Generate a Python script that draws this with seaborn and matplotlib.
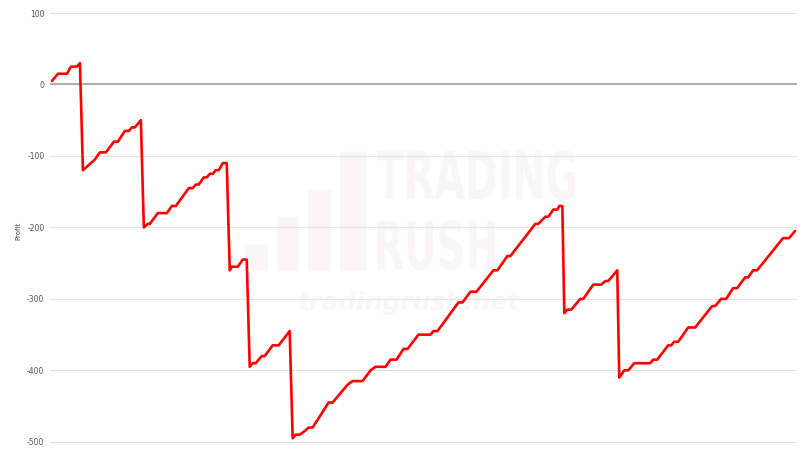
import matplotlib
matplotlib.use("Agg")
import matplotlib.pyplot as plt
import seaborn as sns
import pandas as pd
from matplotlib.patches import Rectangle, PathPatch
from matplotlib.textpath import TextPath
from matplotlib.font_manager import FontProperties
from matplotlib.transforms import Affine2D, IdentityTransform

# bar index (x) and running profit (y)
bars = [1, 7, 16, 20, 26, 29, 32, 40, 44, 49, 55, 63, 67, 74, 78, 81, 84, 90,
        93, 97, 99, 107, 116, 121, 125, 138, 142, 145, 148, 153, 156, 159, 162, 165, 168, 172, 176,
        179, 181, 187, 192, 196, 199, 202, 205, 211, 214, 222, 228, 239,
        242, 245, 249, 254, 258, 262, 278, 282, 297, 302, 312, 320, 325, 335, 340, 346, 353, 357,
        368, 380, 383, 387, 408, 412, 420, 426, 443, 447, 457, 460, 485, 488, 495, 498, 503, 507,
        509, 512,
        514, 517, 521, 530, 533, 543, 551, 555, 558, 567,
        569, 574, 578, 584, 600, 603, 607, 618, 621, 624, 628, 638, 645, 662, 665, 671, 676, 683,
        687, 695, 698, 703, 707, 733, 739, 745]
profit = [5, 15, 15, 25, 25, 30, -120, -110, -105, -95, -95, -80, -80, -65, -65, -60, -60, -50,
          -200, -195, -195, -180, -180, -170, -170, -145, -145, -140, -140, -130, -130, -125, -125, -120, -120, -110, -110,
          -260, -255, -255, -245, -245, -395, -390, -390, -380, -380, -365, -365, -345,
          -495, -490, -490, -485, -480, -480, -445, -445, -420, -415, -415, -400, -395, -395, -385, -385, -370, -370,
          -350, -350, -345, -345, -305, -305, -290, -290, -260, -260, -240, -240, -195, -195, -185, -185, -175, -175,
          -170, -170,
          -320, -315, -315, -300, -300, -280, -280, -275, -275, -260,
          -410, -400, -400, -390, -390, -385, -385, -365, -365, -360, -360, -340, -340, -310, -310, -300, -300, -285,
          -285, -270, -270, -260, -260, -215, -215, -205]

y_ticks = [100, 0, -100, -200, -300, -400, -500]

df = pd.DataFrame({"bar": bars, "Profit": profit})

sns.set_style("white")
plt.rcParams["axes.unicode_minus"] = False
fig = plt.figure(figsize=(8.1, 4.58), dpi=100)
ax = fig.add_axes([0.0617, 0.0197, 0.9223, 0.9519])

# faint watermark, kept under the line
wm = "#f8f6f6"
for (x0, y0, w, h) in [(0.302, 0.4105, 0.028, 0.055), (0.342, 0.4105, 0.026, 0.116),
                       (0.380, 0.4105, 0.027, 0.175), (0.420, 0.4105, 0.031, 0.258)]:
    ax.add_patch(Rectangle((x0, y0), w, h, transform=fig.transFigure,
                           color=wm, zorder=0, clip_on=False))


def condensed(word, left, bottom, width, height):
    tp = TextPath((0, 0), word, size=1, prop=FontProperties(weight="bold"))
    bb = tp.get_extents()
    tr = Affine2D().translate(-bb.x0, -bb.y0).scale(width / bb.width, height / bb.height) \
        .translate(left, bottom)
    ax.add_patch(PathPatch(tr.transform_path(tp), transform=IdentityTransform(),
                           color=wm, lw=0, zorder=0, clip_on=False))


condensed("TRADING", 377, 258, 198, 50)
condensed("RUSH", 377, 188, 118, 50)
ax.text(0.505, 0.338, "tradingrush.net", fontsize=18, fontweight="bold", fontstyle="italic",
        color=wm, ha="center", va="center", zorder=0, transform=fig.transFigure)
ax.patch.set_alpha(0)

sns.lineplot(data=df, x="bar", y="Profit", ax=ax, color="#ff0000", linewidth=1.9,
             estimator=None, sort=False, zorder=3)

ax.set_xlim(-1, 747)
ax.set_ylim(-510, 100)
ax.set_yticks(y_ticks)
ax.set_xticks([])
ax.set_xlabel("")
ax.set_ylabel("Profit", fontsize=5, color="#444444", labelpad=4)
ax.yaxis.grid(True, color="#e3e3e3", linewidth=0.8)
ax.axhline(0, color="#a8a8a8", linewidth=1.3, zorder=2)
ax.tick_params(axis="y", length=0, labelsize=5.5, labelcolor="#555555", pad=4)
for s in ax.spines.values():
    s.set_visible(False)

fig.savefig("out.png", dpi=100)
plt.close(fig)
